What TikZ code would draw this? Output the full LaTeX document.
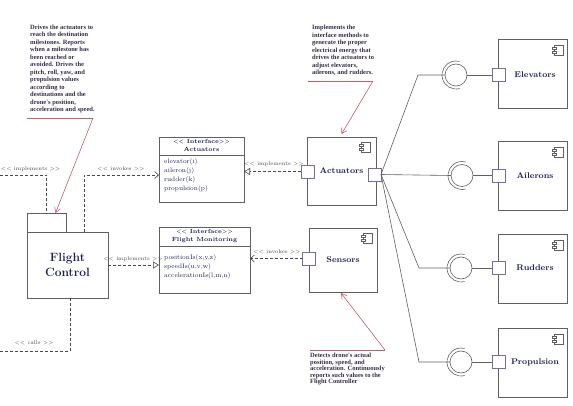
\documentclass[tikz,border=0pt]{standalone}
\usepackage{fontspec}
\newfontfamily\notefont{Liberation Serif}
\usetikzlibrary{arrows.meta,calc}
\definecolor{navy}{RGB}{28,32,80}
\definecolor{linegray}{RGB}{95,95,100}
\definecolor{portc}{RGB}{125,105,155}
\definecolor{annot}{RGB}{190,95,105}
\definecolor{notetext}{RGB}{55,45,75}
\definecolor{lbl}{RGB}{70,70,78}
\begin{document}
\begin{tikzpicture}[x=1pt,y=-1pt,
  box/.style={draw=linegray,line width=0.6pt,inner sep=0pt,outer sep=0pt},
  port/.style={draw=portc,fill=white,line width=0.6pt,minimum width=13pt,minimum height=13pt,inner sep=0pt,outer sep=0pt},
  wire/.style={draw=linegray,line width=0.6pt},
  dashline/.style={draw=lbl,dash pattern=on 3pt off 2pt,line width=0.6pt},
  lbltext/.style={font=\fontsize{5.5}{6}\selectfont,text=lbl,inner sep=0.5pt},
  note/.style={font=\notefont\fontsize{6.5}{7.5}\selectfont\bfseries,text=notetext,align=left,inner sep=0pt,anchor=north west},
  redline/.style={draw=annot,line width=0.6pt},
  compname/.style={font=\fontsize{8.3}{9}\selectfont\bfseries,text=navy},
  ifhead/.style={font=\fontsize{6}{8}\selectfont\bfseries,text=navy,align=center,inner sep=0pt},
  ifmeth/.style={font=\fontsize{6.5}{9}\selectfont,text=navy,align=left,inner sep=0pt,anchor=north west},
  ball/.style={circle,draw=linegray,line width=0.6pt,minimum size=22pt,inner sep=0pt,outer sep=0pt},
  vtip/.style={-{Straight Barb[length=4pt,width=7pt]}},
  ttip/.style={-{Triangle[open,length=6pt,width=7pt,fill=white]}},
  rtip/.style={-{Straight Barb[length=5pt,width=6pt]}},
  compicon/.pic={
    \draw[linegray,line width=0.5pt] (-9,0) rectangle (0,10);
    \draw[linegray,fill=white,line width=0.5pt] (-11,2) rectangle (-7,4);
    \draw[linegray,fill=white,line width=0.5pt] (-11,6) rectangle (-7,8);
  }
]
\useasboundingbox (0,0) rectangle (573,406);

% ---------- Flight Control ----------
\node[box,minimum width=39pt,minimum height=19pt] (fctab) at (46.5,222.5) {};
\node[box,minimum width=81pt,minimum height=66pt,align=center,
      font=\fontsize{12}{15.5}\selectfont\bfseries,text=navy] (fc) at (67.5,265) {Flight\\Control};

% ---------- Interfaces ----------
\node[box,minimum width=85pt,minimum height=65pt] (ai) at (201.5,169.5) {};
\draw[box] ($(ai.north west)+(0,18)$) -- ($(ai.north east)+(0,18)$);
\node[ifhead] (aih) at (201.5,145.5) {{<}{<} Interface{>}{>}\\Actuators};
\node[ifmeth] (aim) at (164,158) {elevator(i)\\aileron(j)\\rudder(k)\\propulsion(p)};

\node[box,minimum width=91pt,minimum height=66pt] (fmi) at (204.5,260) {};
\draw[box] ($(fmi.north west)+(0,19)$) -- ($(fmi.north east)+(0,19)$);
\node[ifhead] (fmih) at (204.5,236) {{<}{<} Interface{>}{>}\\Flight Monitoring};
\node[ifmeth] (fmim) at (164,254.5) {positionIs(x,y,z)\\speedIs(u,v,w)\\accelerationIs(l,m,n)};

% ---------- Actuators / Sensors components ----------
\node[box,minimum width=69pt,minimum height=68pt,compname] (ac) at (341.5,171) {Actuators};
\pic at ([xshift=-6pt,yshift=-5pt]ac.north east) {compicon};
\node[port] (acl) at (307.5,171.5) {};
\node[port] (acr) at (374.5,174.5) {};

\node[box,minimum width=68pt,minimum height=64pt,compname] (sc) at (343,260) {Sensors};
\pic at ([xshift=-5pt,yshift=-5pt]sc.north east) {compicon};
\node[port] (scl) at (309,258.5) {};

% ---------- Right components ----------
\foreach \nm/\lab/\cy/\py/\bx in {el/Elevators/73.5/75/456, ail/Ailerons/176/175.5/462, rud/Rudders/268.5/268/461, pro/Propulsion/362.5/362/461}{
  \node[box,minimum width=69pt,minimum height=69pt] (\nm) at (532.5,\cy) {};
  \node[compname] (\nm t) at (535,\py) {\lab};
  \pic at ([xshift=-4pt,yshift=-6pt]\nm.north east) {compicon};
  \node[port] (\nm p) at (498.5,\py) {};
  \node[ball] (\nm b) at (\bx,\py) {};
  \draw[wire] ($(\nm b.center)+(75:14)$) arc (75:285:14);
  \draw[wire] (\nm b.east) -- (\nm p.west);
}

% wires from actuator port
\coordinate (elbend) at (418,75);
\coordinate (rudbend) at (419,268);
\coordinate (probend) at (419,362);
\draw[wire] (acr.east) -- (elbend) -- (elb.west);
\draw[wire] (acr.east) -- (ailb.west);
\draw[wire] (acr.east) -- (rudbend) -- (rudb.west);
\draw[wire] (acr.east) -- (probend) -- (prob.west);

% ---------- Dashed relations ----------
\coordinate (implL) at (0,175);
\draw[dashline] (implL) -| (fctab.north);
\node[lbltext,anchor=west] (limpl) at (0.3,169) {{<}{<} implements {>}{>}};

\coordinate (invS) at (84,232);
\coordinate (invC) at (84,175);
\draw[dashline,vtip] (invS) -- (invC) -- (invC -| ai.west);
\node[lbltext] (linv) at (121,169) {{<}{<} invokes {>}{>}};

\draw[dashline,ttip] (fc.east |- 0,265) -- (fmi.west |- 0,265);
\node[lbltext] (limpl2) at (133,259) {{<}{<} implements {>}{>}};

\coordinate (callS) at (70,298);
\coordinate (callC) at (70,351);
\coordinate (callE) at (0,351);
\draw[dashline] (callS) -- (callC) -- (callE);
\node[lbltext] (lcall) at (34,343) {{<}{<} calls {>}{>}};

\draw[dashline,ttip] (acl.west) -- (acl.west -| ai.east);
\node[lbltext] (limpl3) at (274,164.5) {{<}{<} implements {>}{>}};

\draw[dashline,vtip] (scl.west) -- (scl.west -| fmi.east);
\node[lbltext] (linv2) at (277,252) {{<}{<} invokes {>}{>}};

% ---------- Annotations ----------
\node[note] (n1) at (30,24.5) {Drives the actuators to\\reach the destination\\milestones. Reports\\when a milestone has\\been reached or\\avoided. Drives the\\pitch, roll, yaw, and\\propulsion values\\according to\\destinations and the\\drone's position,\\acceleration and speed.};
\coordinate (n1a) at (27,118);
\coordinate (n1b) at (93,118);
\draw[redline] (n1a) -- (n1b);
\draw[redline,rtip] (n1b) -- ([xshift=9pt]fctab.north);

\node[note] (n2) at (312,25) {Implements the\\interface methods to\\generate the proper\\electrical energy that\\drives the actuators to\\adjust elevators,\\ailerons, and rudders.};
\coordinate (n2a) at (308,81);
\coordinate (n2b) at (373,81);
\draw[redline] (n2a) -- (n2b);
\draw[redline,rtip] (n2b) -- ([yshift=3pt]ac.north);

\node[note,font=\notefont\fontsize{6.5}{6.5}\selectfont\bfseries] (n3) at (310,353) {Detects drone's actual\\position, speed, and\\acceleration. Continuously\\reports such values to the\\Flight Controller};
\coordinate (n3a) at (310,350);
\coordinate (n3b) at (385,350);
\draw[redline] (n3a) -- (n3b);
\draw[redline,rtip] (n3b) -- ([xshift=-2pt,yshift=-1pt]sc.south);
\end{tikzpicture}
\end{document}
